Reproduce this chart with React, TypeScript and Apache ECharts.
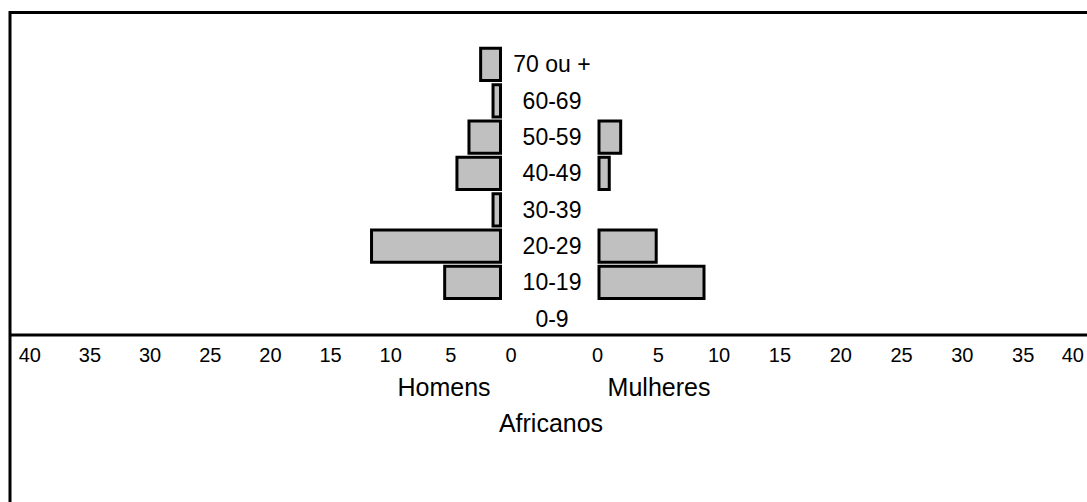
import React, { useEffect, useRef } from "react";
import * as echarts from "echarts";

const categories = ["0-9", "10-19", "20-29", "30-39", "40-49", "50-59", "60-69", "70 ou +"];
const homens = [0, 4.89, 10.97, 0.87, 3.87, 2.87, 0.87, 1.9];
const mulheres = [0, 8.88, 4.95, 0, 1.09, 2.03, 0, 0];
const axisMin = 0;
const axisMax = 40;
const axisStep = 5;
const leftName = "Homens";
const rightName = "Mulheres";
const titleText = "Africanos";

const FONT = "'Liberation Sans', Arial, sans-serif";

export default function App() {
  const ref = useRef<HTMLDivElement>(null);
  useEffect(() => {
    document.body.style.margin = "0";
    const chart = echarts.init(ref.current!, null, { renderer: "svg" });
    const toBar = (v: number) => (v === 0 ? null : v);
    const barStyle = { color: "#c0c0c0", borderColor: "#000", borderWidth: 3 };
    const gridTop = 46.3;
    const gridH = 290.7;
    chart.setOption({
      animation: false,
      backgroundColor: "#fff",
      textStyle: { fontFamily: FONT },
      grid: [
        { left: 20.8, width: 481.2, top: gridTop, height: gridH, containLabel: false },
        { left: 597.5, width: 493.2, top: gridTop, height: gridH, containLabel: false },
      ],
      xAxis: [
        {
          type: "value", gridIndex: 0, inverse: true, min: axisMin, max: axisMax, interval: axisStep,
          axisLine: { show: false }, axisTick: { show: false }, splitLine: { show: false },
          axisLabel: { color: "#000", fontSize: 20, fontFamily: FONT, margin: 8, padding: [0, 0, 0, 18] },
        },
        {
          type: "value", gridIndex: 1, min: axisMin, max: axisMax, interval: axisStep,
          axisLine: { show: false }, axisTick: { show: false }, splitLine: { show: false },
          axisLabel: { color: "#000", fontSize: 20, fontFamily: FONT, margin: 8, alignMaxLabel: "right" },
        },
      ],
      yAxis: [
        {
          type: "category", gridIndex: 0, data: categories, position: "right",
          axisLine: { show: false }, axisTick: { show: false },
          axisLabel: { color: "#000", fontSize: 23, fontFamily: FONT, margin: 50, align: "center" },
        },
        {
          type: "category", gridIndex: 1, data: categories,
          axisLine: { show: false }, axisTick: { show: false }, axisLabel: { show: false },
        },
      ],
      series: [
        {
          type: "bar", xAxisIndex: 0, yAxisIndex: 0, data: homens.map(toBar),
          barCategoryGap: "3%", itemStyle: barStyle,
        },
        {
          type: "bar", xAxisIndex: 1, yAxisIndex: 1, data: mulheres.map(toBar),
          barCategoryGap: "3%", itemStyle: barStyle,
        },
      ],
      graphic: [
        { type: "line", shape: { x1: 10, y1: 12.5, x2: 1090, y2: 12.5 }, style: { stroke: "#000", lineWidth: 3 } },
        { type: "line", shape: { x1: 10, y1: 11, x2: 10, y2: 505 }, style: { stroke: "#000", lineWidth: 3 } },
        { type: "line", shape: { x1: 10, y1: 335, x2: 1090, y2: 335 }, style: { stroke: "#000", lineWidth: 3 } },
        {
          type: "text", x: 444, y: 387,
          style: { text: leftName, fill: "#000", font: `25px ${FONT}`, textAlign: "center", textVerticalAlign: "middle" },
        },
        {
          type: "text", x: 659, y: 387,
          style: { text: rightName, fill: "#000", font: `25px ${FONT}`, textAlign: "center", textVerticalAlign: "middle" },
        },
        {
          type: "text", x: 551, y: 423,
          style: { text: titleText, fill: "#000", font: `25px ${FONT}`, textAlign: "center", textVerticalAlign: "middle" },
        },
      ],
    });
    return () => chart.dispose();
  }, []);
  return <div ref={ref} style={{ width: 1087, height: 502 }} />;
}
